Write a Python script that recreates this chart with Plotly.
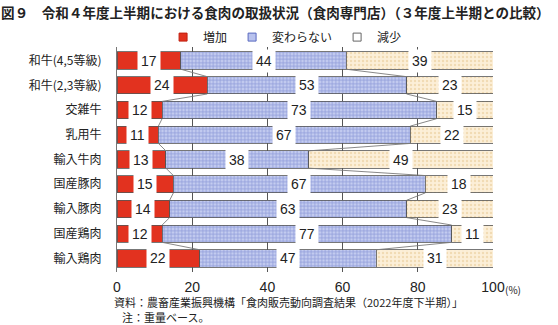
import plotly.graph_objects as go

# Survey shares (%) by meat type: increased / unchanged / decreased
categories = ["和牛(4,5等級)", "和牛(2,3等級)", "交雑牛", "乳用牛", "輸入牛肉",
              "国産豚肉", "輸入豚肉", "国産鶏肉", "輸入鶏肉"]
increase = [17, 24, 12, 11, 13, 15, 14, 12, 22]
unchanged = [44, 53, 73, 67, 38, 67, 63, 77, 47]
decrease = [39, 23, 15, 22, 49, 18, 23, 11, 31]
series_names = ["増加", "変わらない", "減少"]
x_ticks = [0, 20, 40, 60, 80, 100]

FONT = "Noto Sans CJK JP"
NUM_FONT = "Liberation Sans"
BAR_W = 0.7
ypos = list(range(len(categories)))

styles = [
    dict(color="#e2321f", pattern=None),
    dict(color="#c4ccf0", pattern=dict(shape="+", fgcolor="#5a6cc4", bgcolor="#c4ccf0",
                                       size=3.5, solidity=0.4)),
    dict(color="#fcefd8", pattern=dict(shape=".", fgcolor="#e6c590", bgcolor="#fcefd8",
                                       size=4, solidity=0.3)),
]
legend_colors = ["#e2321f", "#b8c2ee", "#ffffff"]
legend_lines = ["#c02010", "#5a6ac0", "#666666"]

fig = go.Figure()
series = [increase, unchanged, decrease]

# connector lines between adjacent bars at each segment boundary
cum1 = increase
cum2 = [a + b for a, b in zip(increase, unchanged)]
for cum in (cum1, cum2):
    for i in range(len(categories) - 1):
        fig.add_trace(go.Scatter(
            x=[cum[i], cum[i + 1]],
            y=[i + BAR_W / 2, i + 1 - BAR_W / 2],
            mode="lines", line=dict(color="#7a7a7a", width=0.9),
            hoverinfo="skip", showlegend=False))

for name, vals, st in zip(series_names, series, styles):
    marker = dict(color=st["color"], line=dict(color="#555555", width=0.8))
    if st["pattern"]:
        marker["pattern"] = st["pattern"]
    fig.add_trace(go.Bar(
        x=vals, y=ypos, orientation="h", name=name, width=BAR_W,
        marker=marker, showlegend=False))

# legend keys
for name, c, lc in zip(series_names, legend_colors, legend_lines):
    fig.add_trace(go.Scatter(
        x=[None], y=[None], mode="markers", name=name,
        marker=dict(symbol="square", size=8, color=c, line=dict(color=lc, width=1))))

# value labels in white boxes, centred on each segment
annotations = []
for i in range(len(categories)):
    start = 0
    for vals in series:
        v = vals[i]
        annotations.append(dict(
            x=start + v / 2, y=i, xref="x", yref="y", text=str(v), showarrow=False,
            font=dict(family=NUM_FONT, size=14, color="#222222"),
            bgcolor="#ffffff", borderpad=3))
        start += v

# percent unit next to the last tick
annotations.append(dict(
    x=100, y=0, xref="x", yref="paper", text="(%)", showarrow=False,
    xanchor="left", yanchor="top", xshift=10, yshift=-8,
    font=dict(family=FONT, size=10, color="#222222")))

# source notes
annotations.append(dict(
    x=-0.013, y=-0.09, xref="paper", yref="paper", xanchor="left", yanchor="top",
    text="資料：農畜産業振興機構「食肉販売動向調査結果（2022年度下半期）」",
    showarrow=False, font=dict(family=FONT, size=11, color="#222222")))
annotations.append(dict(
    x=0.008, y=-0.157, xref="paper", yref="paper", xanchor="left", yanchor="top",
    text="注：重量ベース。",
    showarrow=False, font=dict(family=FONT, size=11, color="#222222")))

fig.update_layout(
    width=558, height=325,
    margin=dict(l=117, r=65, t=47, b=53),
    barmode="stack",
    plot_bgcolor="#ffffff", paper_bgcolor="#ffffff",
    title=dict(
        text="<b>図９　令和４年度上半期における食肉の取扱状況（食肉専門店）（３年度上半期との比較）</b>",
        x=0.002, xanchor="left", y=0.975, yanchor="top",
        font=dict(family=FONT, size=13.55, color="#222222")),
    legend=dict(orientation="h", x=0.447, xanchor="center", y=1.044, yanchor="middle",
                traceorder="normal",
                font=dict(family=FONT, size=12, color="#222222"),
                itemwidth=30, bgcolor="rgba(0,0,0,0)"),
    annotations=annotations,
    xaxis=dict(range=[0, 100], tickvals=x_ticks, ticktext=[str(t) for t in x_ticks],
               showgrid=True, gridcolor="#555555", gridwidth=1, zeroline=False,
               showline=False, ticks="", ticklabelstandoff=5,
               tickfont=dict(family=NUM_FONT, size=14, color="#222222")),
    yaxis=dict(tickvals=ypos, ticktext=categories, range=[len(categories) - 0.45, -0.55],
               showgrid=False, zeroline=False, showline=True, linecolor="#777777",
               ticks="", ticklabelstandoff=12,
               tickfont=dict(family=FONT, size=12, color="#222222")),
)

fig.write_html("out.html")
